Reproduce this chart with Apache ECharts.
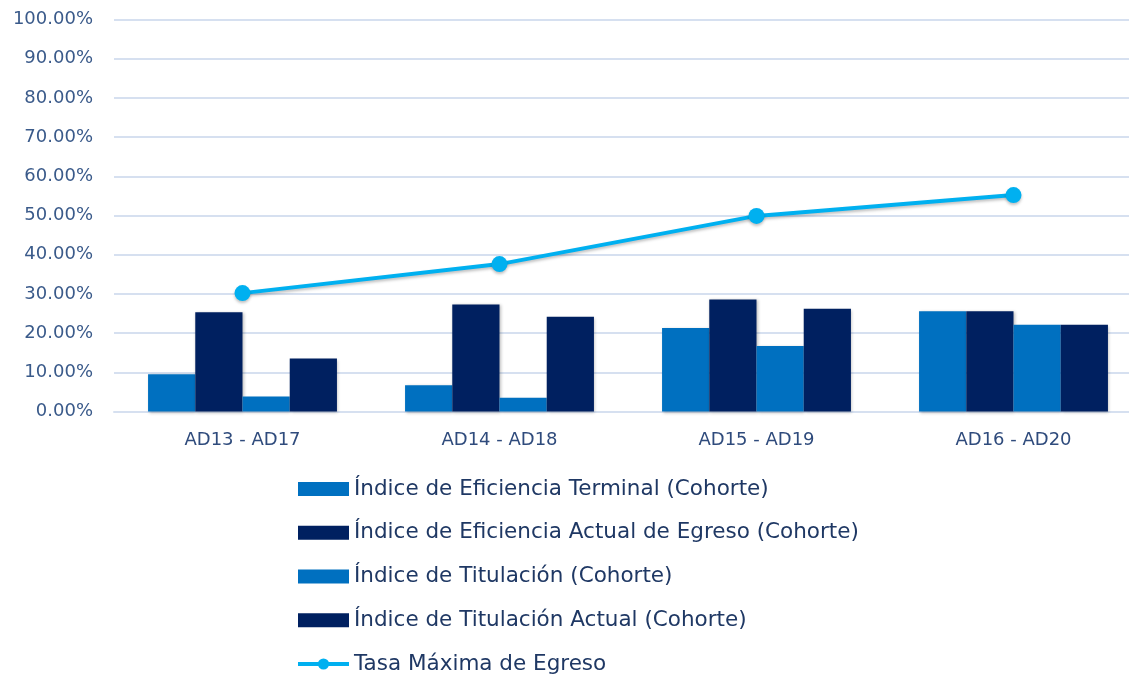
<!DOCTYPE html>
<html><head><meta charset="utf-8">
<script src="https://cdn.jsdelivr.net/npm/echarts@6/dist/echarts.min.js"></script>
<style>html,body{margin:0;padding:0;background:#fff;overflow:hidden}#c{width:1142px;height:677px}</style>
</head><body><div id="c"></div>
<script>
const categories = ['AD13 - AD17', 'AD14 - AD18', 'AD15 - AD19', 'AD16 - AD20'];
const eficienciaTerminal = [9.5, 6.7, 21.3, 25.6];
const eficienciaActual = [25.3, 27.3, 28.6, 25.6];
const titulacion = [3.8, 3.5, 16.7, 22.1];
const titulacionActual = [13.5, 24.2, 26.2, 22.1];
const tasaMaxima = [30.2, 37.6, 49.9, 55.2];
const yTicks = [0, 10, 20, 30, 40, 50, 60, 70, 80, 90, 100];
const seriesNames = ['Índice de Eficiencia Terminal (Cohorte)', 'Índice de Eficiencia Actual de Egreso (Cohorte)',
  'Índice de Titulación (Cohorte)', 'Índice de Titulación Actual (Cohorte)', 'Tasa Máxima de Egreso'];

const cLight = '#0070C0', cDark = '#002060', cLine = '#00B0F0';
const font = 'DejaVu Sans';
const barShadow = {shadowColor: 'rgba(0,0,0,0.25)', shadowBlur: 3, shadowOffsetX: 1, shadowOffsetY: 1};
function bar(name, data, color) {
  return {name, type: 'bar', data, barGap: '0%', barCategoryGap: '26.5%',
    itemStyle: Object.assign({color}, barShadow)};
}
const chart = echarts.init(document.getElementById('c'));
chart.setOption({
  animation: false,
  grid: {left: 114, right: 0, top: 19.5, bottom: 265.5, containLabel: false},
  xAxis: {type: 'category', data: categories,
    axisLine: {show: true, lineStyle: {color: '#D6E0F0', width: 2}},
    axisTick: {show: false},
    axisLabel: {color: '#2F4B7C', fontFamily: font, fontSize: 18, margin: 20}},
  yAxis: {type: 'value', min: yTicks[0], max: yTicks[yTicks.length - 1], interval: 10,
    axisLine: {show: false}, axisTick: {show: false},
    splitLine: {lineStyle: {color: '#D6E0F0', width: 2}},
    axisLabel: {color: '#3A5A8A', fontFamily: font, fontSize: 18, margin: 21,
      formatter: v => v.toFixed(2) + '%'}},
  legend: {orient: 'vertical', left: 291, top: 473, height: 260, itemWidth: 51, itemHeight: 14, itemGap: 21.75,
    textStyle: {color: '#1F3864', fontFamily: font, fontSize: 21.5, lineHeight: 22},
    data: seriesNames.map((n, i) => i < 4 ? {name: n, icon: 'rect'} : {name: n, lineStyle: {width: 4}})},
  series: [
    bar(seriesNames[0], eficienciaTerminal, cLight),
    bar(seriesNames[1], eficienciaActual, cDark),
    bar(seriesNames[2], titulacion, cLight),
    bar(seriesNames[3], titulacionActual, cDark),
    {name: seriesNames[4], type: 'line', data: tasaMaxima, symbol: 'circle', symbolSize: 16,
      lineStyle: {color: cLine, width: 4, shadowColor: 'rgba(0,0,0,0.25)', shadowBlur: 3, shadowOffsetY: 2},
      itemStyle: {color: cLine, shadowColor: 'rgba(0,0,0,0.25)', shadowBlur: 3, shadowOffsetY: 2}}
  ]
});
</script></body></html>
